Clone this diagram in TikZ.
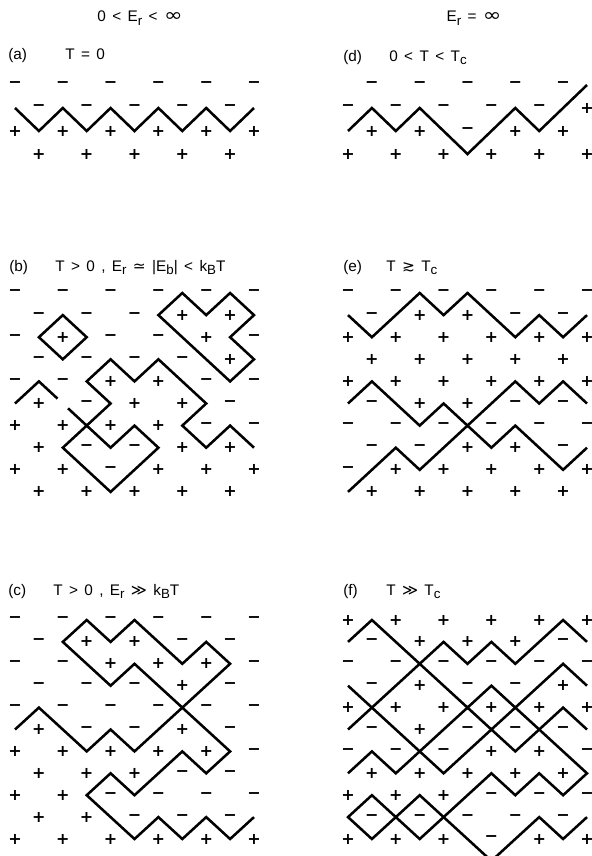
\documentclass[tikz,border=0pt]{standalone}
\usepackage{fontspec}
\setmainfont{Liberation Sans}[WordSpace=1.5]
\newfontfamily\symfont{DejaVu Sans}
\newfontfamily\spinfont{DejaVu Sans}
\usetikzlibrary{positioning}

\newcommand\lowidx[1]{\raisebox{-0.25em}{\fontsize{10}{10}\selectfont #1}}
\newcommand\sym[1]{{\symfont #1}}
\newcommand\infsym{\scalebox{1.45}[1.2]{\symfont ∞}}
% one lattice row per entry: row / first column / signs
\newcommand\spinrows[2]{%
  \foreach \j/\f/\sgns in {#2} {
    \foreach \s [count=\k from 0] in \sgns
      \node[spin] (#1-\j-\k) at (\f+2*\k,\j) {\s};
  }}

\tikzset{
  spin/.style={font=\spinfont\bfseries\fontsize{12}{12}\selectfont, inner sep=0pt},
  wall/.style={line width=1.9pt, line join=miter, line cap=butt},
  tag/.style={anchor=base west, inner sep=0pt, font=\fontsize{11.5}{13}\selectfont},
  title/.style={anchor=base, inner sep=0pt, font=\fontsize{11.5}{13}\selectfont}
}

\begin{document}
\begin{tikzpicture}[x=0.75pt, y=-0.75pt]
\path[fill=white, use as bounding box] (0,0) rectangle (592,856);

% column headings
\node[title] (titleL) at (140,22) {0 < E\lowidx{r} < \infsym};
\node[title] (titleR) at (474,22) {E\lowidx{r} = \infsym};

% panel labels
\node[tag] (tagA)  at (8,60)    {(a)};
\node[tag] (condA) at (65,60)   {T = 0};
\node[tag] (tagD)  at (343,61)  {(d)};
\node[tag] (condD) at (389,61)  {0 < T < T\lowidx{c}};
\node[tag] (tagB)  at (9,271)   {(b)};
\node[tag] (condB) at (55,271)  {T > 0 , E\lowidx{r} \sym{≃} |E\lowidx{b}| < k\lowidx{B}T};
\node[tag] (tagE)  at (343,271) {(e)};
\node[tag] (condE) at (386,271) {T \sym{≳} T\lowidx{c}};
\node[tag] (tagC)  at (8,595)   {(c)};
\node[tag] (condC) at (53,595)  {T > 0 , E\lowidx{r} \sym{≫} k\lowidx{B}T};
\node[tag] (tagF)  at (343,595) {(f)};
\node[tag] (condF) at (386,595) {T \sym{≫} T\lowidx{c}};

% (a) T = 0
\begin{scope}[shift={(15,85)}, x=17.925pt, y=-17.25pt]
  \spinrows{a}{0/0/{−,−,−,−,−,−}, 1/1/{−,−,−,−,−}, 2/0/{+,+,+,+,+,+}, 3/1/{+,+,+,+,+}}
  \draw[wall] (0,1) -- (1,2) -- (2,1) -- (3,2) -- (4,1) -- (5,2) -- (6,1)
    -- (7,2) -- (8,1) -- (9,2) -- (10,1);
\end{scope}

% (d) 0 < T < Tc
\begin{scope}[shift={(348,85)}, x=17.925pt, y=-17.25pt]
  \spinrows{d}{0/1/{−,−,−,−,−}, 1/0/{−,−,−,−,−,+}, 2/1/{+,+,−,+,+}, 3/0/{+,+,+,+,+,+}}
  \draw[wall] (0,2) -- (1,1) -- (2,2) -- (3,1) -- (5,3) -- (7,1) -- (8,2) -- (10,0);
\end{scope}

% (b) T > 0, Er ~ |Eb| < kT
\begin{scope}[shift={(15,293)}, x=17.925pt, y=-16.575pt]
  \spinrows{b}{0/0/{−,−,−,−,−,−}, 1/1/{−,−,−,+,+}, 2/0/{−,+,−,−,+,−},
    3/1/{−,−,−,−,+}, 4/0/{−,−,+,+,−,−}, 5/1/{+,−,+,+,−}, 6/0/{+,+,+,+,−,−},
    7/1/{+,−,−,+,+}, 8/0/{+,+,−,+,+,+}, 9/1/{+,+,+,+,+}}
  \draw[wall] (1,2) -- (2,1) -- (3,2) -- (2,3) -- cycle;
  \draw[wall] (6,1) -- (7,0) -- (8,1) -- (9,0) -- (10,1) -- (9,2) -- (10,3)
    -- (9,4) -- cycle;
  \draw[wall] (0,5) -- (1,4) -- (1.78,4.78);
  \draw[wall] (2.22,5.22) -- (3,6) -- (4,5) -- (3,4) -- (4,3) -- (5,4) -- (6,3)
    -- (8,5) -- (7,6) -- (8,7) -- (9,6) -- (10,7);
  \draw[wall] (2,7) -- (3,6) -- (4,7) -- (5,6) -- (6,7) -- (4,9) -- cycle;
\end{scope}

% (e) T >~ Tc
\begin{scope}[shift={(348,293)}, x=17.925pt, y=-16.575pt]
  \spinrows{e}{0/0/{−,−,−,−,−,−}, 1/1/{−,+,+,−,−}, 2/0/{+,+,+,+,+,+},
    3/1/{+,+,+,+,+}, 4/0/{+,+,+,+,+,+}, 5/1/{−,+,+,−,−}, 6/0/{−,−,−,−,−,−},
    7/1/{−,−,+,+,−}, 8/0/{−,+,+,+,+,+}, 9/1/{+,+,+,+,+}}
  \draw[wall] (0,1) -- (1,2) -- (3,0) -- (4,1) -- (5,0) -- (7,2) -- (8,1)
    -- (9,2) -- (10,1);
  \draw[wall] (0,5) -- (1,4) -- (3,6) -- (4,5) -- (5,6) -- (7,4) -- (8,5)
    -- (9,4) -- (10,5);
  \draw[wall] (0,9) -- (2,7) -- (3,8) -- (5,6) -- (6,7) -- (7,6) -- (9,8)
    -- (10,7);
\end{scope}

% (c) T > 0, Er >> kT
\begin{scope}[shift={(15,620)}, x=17.925pt, y=-16.425pt]
  \spinrows{c}{0/0/{−,−,−,−,−,−}, 1/1/{−,+,+,−,−}, 2/0/{−,−,+,+,+,−},
    3/1/{−,−,−,+,−}, 4/0/{−,−,−,−,−,−}, 5/1/{+,−,−,+,−}, 6/0/{+,+,+,+,+,−},
    7/1/{+,+,+,−,−}, 8/0/{+,+,−,−,−,−}, 9/1/{+,+,−,−,−}, 10/0/{+,+,+,+,+,+}}
  \draw[wall] (2,1) -- (3,0) -- (4,1) -- (5,0) -- (7,2) -- (8,1) -- (9,2)
    -- (7,4) -- (5,2) -- (4,3) -- cycle;
  \draw[wall] (0,5) -- (1,4) -- (3,6) -- (4,5) -- (5,6) -- (7,4) -- (9,6)
    -- (8,7) -- (7,6) -- (5,8) -- (4,7) -- (3,8) -- (5,10) -- (6,9) -- (7,10)
    -- (8,9) -- (9,10) -- (10,9);
\end{scope}

% (f) T >> Tc
\begin{scope}[shift={(348,620)}, x=17.925pt, y=-16.425pt]
  \spinrows{f}{0/0/{+,+,+,+,+,+}, 1/1/{−,+,+,+,−}, 2/0/{−,−,−,−,−,−},
    3/1/{−,+,−,−,+}, 4/0/{+,+,+,+,+,+}, 5/1/{−,+,−,−,−}, 6/0/{−,−,−,+,+,−},
    7/1/{+,+,+,+,+}, 8/0/{+,+,+,−,−,−}, 9/1/{−,−,−,−,−}, 10/0/{+,+,+,−,+,+}}
  \draw[wall] (0,1) -- (1,0) -- (3,2) -- (4,1) -- (5,2) -- (6,1) -- (7,2)
    -- (9,0) -- (10,1);
  \draw[wall] (0,3) -- (1,4) -- (3,2) -- (5,4) -- (6,3) -- (7,4) -- (9,2)
    -- (10,3);
  \draw[wall] (0,5) -- (1,4) -- (3,6) -- (5,4) -- (6,5) -- (7,4) -- (8,5)
    -- (9,4) -- (10,5);
  \draw[wall] (0,7) -- (1,6) -- (2,7) -- (3,6) -- (4,7) -- (6,5) -- (7,6)
    -- (8,5) -- (10,7) -- (9,8) -- (8,7) -- (7,8) -- (6,7) -- (4,9) -- (6,11)
    -- (8,9) -- (9,10) -- (10,9);
  \draw[wall] (0,9) -- (1,8) -- (2,9) -- (3,8) -- (4,9) -- (3,10) -- (2,9)
    -- (1,10) -- cycle;
\end{scope}
\end{tikzpicture}
\end{document}
